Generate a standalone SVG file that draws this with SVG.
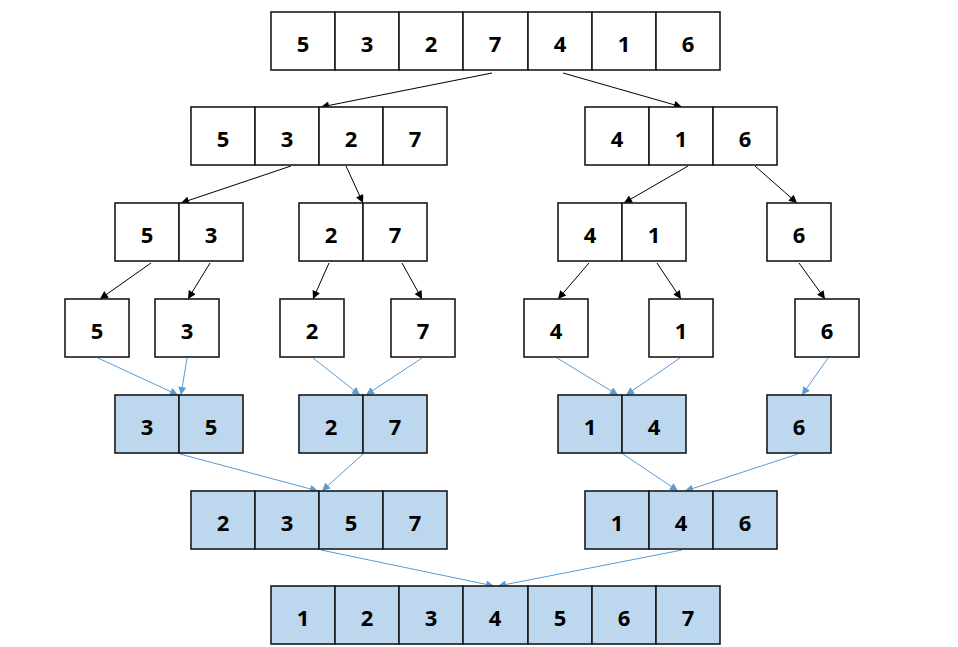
<svg xmlns="http://www.w3.org/2000/svg" width="958" height="647" viewBox="0 0 958 647">
<style>
.c{fill:#ffffff;stroke:#1a1a1a;stroke-width:1.6}
.b .c{fill:#bdd7ee}
.t{font-family:"Open Sans","Noto Sans","Liberation Sans",sans-serif;font-weight:bold;font-size:22px;text-anchor:middle;fill:#000}
.k{stroke:#000;stroke-width:1;fill:none;marker-end:url(#ak)}
.u{stroke:#5b9bd5;stroke-width:1;fill:none;marker-end:url(#au)}
</style>
<defs>
<marker id="ak" viewBox="0 0 10 10" refX="10" refY="5" markerUnits="userSpaceOnUse" markerWidth="10" markerHeight="8" orient="auto"><path d="M0,0L10,5L0,10z" fill="#000"/></marker>
<marker id="au" viewBox="0 0 10 10" refX="10" refY="5" markerUnits="userSpaceOnUse" markerWidth="10" markerHeight="8" orient="auto"><path d="M0,0L10,5L0,10z" fill="#5b9bd5"/></marker>
</defs>
<rect width="958" height="647" fill="#fff"/>

<g id="connectors">
<line class="k" x1="492" y1="73" x2="321" y2="107"/>
<line class="k" x1="563" y1="73" x2="682" y2="107"/>
<line class="k" x1="291" y1="166" x2="181" y2="203"/>
<line class="k" x1="346" y1="166" x2="363" y2="203"/>
<line class="k" x1="688" y1="166" x2="624" y2="203"/>
<line class="k" x1="755" y1="166" x2="797" y2="203"/>
<line class="k" x1="151" y1="263" x2="100" y2="299"/>
<line class="k" x1="210" y1="263" x2="188" y2="299"/>
<line class="k" x1="329" y1="263" x2="313" y2="299"/>
<line class="k" x1="402" y1="263" x2="422" y2="299"/>
<line class="k" x1="589" y1="263" x2="558" y2="299"/>
<line class="k" x1="657" y1="263" x2="681" y2="299"/>
<line class="k" x1="799" y1="263" x2="825" y2="299"/>
<line class="u" x1="98" y1="358" x2="178" y2="395"/>
<line class="u" x1="187" y1="358" x2="181" y2="395"/>
<line class="u" x1="313" y1="358" x2="360" y2="395"/>
<line class="u" x1="422" y1="358" x2="366" y2="395"/>
<line class="u" x1="557" y1="358" x2="618" y2="395"/>
<line class="u" x1="680" y1="358" x2="626" y2="395"/>
<line class="u" x1="828" y1="358" x2="802" y2="395"/>
<line class="u" x1="180" y1="454" x2="318" y2="491"/>
<line class="u" x1="363" y1="454" x2="322" y2="491"/>
<line class="u" x1="623" y1="454" x2="678" y2="491"/>
<line class="u" x1="798" y1="454" x2="685" y2="491"/>
<line class="u" x1="321" y1="550" x2="494" y2="586"/>
<line class="u" x1="682" y1="550" x2="498" y2="586"/>
</g>

<g id="n-top">
<rect class="c" x="271" y="12" width="64" height="58"/><rect class="c" x="335" y="12" width="64" height="58"/><rect class="c" x="399" y="12" width="64" height="58"/><rect class="c" x="463" y="12" width="65" height="58"/><rect class="c" x="528" y="12" width="64" height="58"/><rect class="c" x="592" y="12" width="64" height="58"/><rect class="c" x="656" y="12" width="64" height="58"/>
<text class="t" x="303" y="52">5</text><text class="t" x="367" y="52">3</text><text class="t" x="431" y="52">2</text><text class="t" x="495" y="52">7</text><text class="t" x="560" y="52">4</text><text class="t" x="624" y="52">1</text><text class="t" x="688" y="52">6</text>
</g>

<g id="n-5327">
<rect class="c" x="191" y="107" width="64" height="58"/><rect class="c" x="255" y="107" width="64" height="58"/><rect class="c" x="319" y="107" width="64" height="58"/><rect class="c" x="383" y="107" width="64" height="58"/>
<text class="t" x="223" y="147">5</text><text class="t" x="287" y="147">3</text><text class="t" x="351" y="147">2</text><text class="t" x="415" y="147">7</text>
</g>
<g id="n-416">
<rect class="c" x="585" y="107" width="64" height="58"/><rect class="c" x="649" y="107" width="64" height="58"/><rect class="c" x="713" y="107" width="64" height="58"/>
<text class="t" x="617" y="147">4</text><text class="t" x="681" y="147">1</text><text class="t" x="745" y="147">6</text>
</g>

<g id="n-53">
<rect class="c" x="115" y="203" width="64" height="58"/><rect class="c" x="179" y="203" width="64" height="58"/>
<text class="t" x="147" y="243">5</text><text class="t" x="211" y="243">3</text>
</g>
<g id="n-27">
<rect class="c" x="299" y="203" width="64" height="58"/><rect class="c" x="363" y="203" width="64" height="58"/>
<text class="t" x="331" y="243">2</text><text class="t" x="395" y="243">7</text>
</g>
<g id="n-41">
<rect class="c" x="558" y="203" width="64" height="58"/><rect class="c" x="622" y="203" width="64" height="58"/>
<text class="t" x="590" y="243">4</text><text class="t" x="654" y="243">1</text>
</g>
<g id="n-6a">
<rect class="c" x="767" y="203" width="64" height="58"/>
<text class="t" x="799" y="243">6</text>
</g>

<g id="n-s5"><rect class="c" x="65" y="299" width="64" height="58"/><text class="t" x="97" y="339">5</text></g>
<g id="n-s3"><rect class="c" x="155" y="299" width="64" height="58"/><text class="t" x="187" y="339">3</text></g>
<g id="n-s2"><rect class="c" x="280" y="299" width="64" height="58"/><text class="t" x="312" y="339">2</text></g>
<g id="n-s7"><rect class="c" x="391" y="299" width="64" height="58"/><text class="t" x="423" y="339">7</text></g>
<g id="n-s4"><rect class="c" x="524" y="299" width="64" height="58"/><text class="t" x="556" y="339">4</text></g>
<g id="n-s1"><rect class="c" x="649" y="299" width="64" height="58"/><text class="t" x="681" y="339">1</text></g>
<g id="n-s6"><rect class="c" x="795" y="299" width="64" height="58"/><text class="t" x="827" y="339">6</text></g>

<g id="m-35" class="b">
<rect class="c" x="115" y="395" width="64" height="58"/><rect class="c" x="179" y="395" width="64" height="58"/>
<text class="t" x="147" y="435">3</text><text class="t" x="211" y="435">5</text>
</g>
<g id="m-27" class="b">
<rect class="c" x="299" y="395" width="64" height="58"/><rect class="c" x="363" y="395" width="64" height="58"/>
<text class="t" x="331" y="435">2</text><text class="t" x="395" y="435">7</text>
</g>
<g id="m-14" class="b">
<rect class="c" x="558" y="395" width="64" height="58"/><rect class="c" x="622" y="395" width="64" height="58"/>
<text class="t" x="590" y="435">1</text><text class="t" x="654" y="435">4</text>
</g>
<g id="m-6" class="b">
<rect class="c" x="767" y="395" width="64" height="58"/>
<text class="t" x="799" y="435">6</text>
</g>

<g id="m-2357" class="b">
<rect class="c" x="191" y="491" width="64" height="58"/><rect class="c" x="255" y="491" width="64" height="58"/><rect class="c" x="319" y="491" width="64" height="58"/><rect class="c" x="383" y="491" width="64" height="58"/>
<text class="t" x="223" y="531">2</text><text class="t" x="287" y="531">3</text><text class="t" x="351" y="531">5</text><text class="t" x="415" y="531">7</text>
</g>
<g id="m-146" class="b">
<rect class="c" x="585" y="491" width="64" height="58"/><rect class="c" x="649" y="491" width="64" height="58"/><rect class="c" x="713" y="491" width="64" height="58"/>
<text class="t" x="617" y="531">1</text><text class="t" x="681" y="531">4</text><text class="t" x="745" y="531">6</text>
</g>

<g id="m-final" class="b">
<rect class="c" x="271" y="586" width="64" height="58"/><rect class="c" x="335" y="586" width="64" height="58"/><rect class="c" x="399" y="586" width="64" height="58"/><rect class="c" x="463" y="586" width="65" height="58"/><rect class="c" x="528" y="586" width="64" height="58"/><rect class="c" x="592" y="586" width="64" height="58"/><rect class="c" x="656" y="586" width="64" height="58"/>
<text class="t" x="303" y="626">1</text><text class="t" x="367" y="626">2</text><text class="t" x="431" y="626">3</text><text class="t" x="495" y="626">4</text><text class="t" x="560" y="626">5</text><text class="t" x="624" y="626">6</text><text class="t" x="688" y="626">7</text>
</g>
</svg>
